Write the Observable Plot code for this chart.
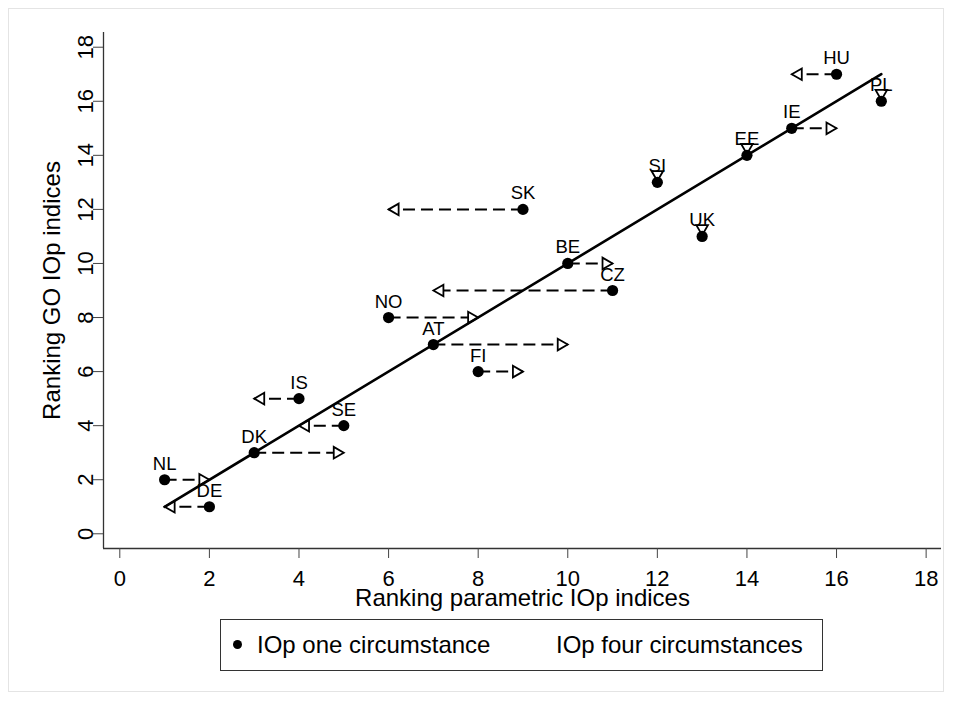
<!DOCTYPE html>
<html>
<head>
<meta charset="utf-8">
<script src="https://cdn.jsdelivr.net/npm/d3@7"></script>
<script src="https://cdn.jsdelivr.net/npm/@observablehq/plot@0.6"></script>
<style>
  body { margin: 0; background: #fff; font-family: "Liberation Sans", Arial, sans-serif; }
  #wrap { position: relative; width: 954px; height: 702px; overflow: hidden; background: #fff; }
  #outer { position: absolute; left: 8px; top: 8px; width: 936px; height: 684px; border: 1px solid #e4e4e4; box-sizing: border-box; }
  #chart { position: absolute; left: 0; top: 0; }
  #legend { position: absolute; left: 220px; top: 619px; width: 603px; height: 52px; border: 1.5px solid #333; box-sizing: border-box; font-size: 24px; color: #000; }
  #legend .dot { position: absolute; left: 12px; top: 50%; width: 9px; height: 9px; margin-top: -5px; border-radius: 50%; background: #000; }
  #legend .t { position: absolute; top: 50%; transform: translateY(-50%); white-space: nowrap; line-height: 1; }
</style>
</head>
<body>
<div id="wrap">
  <div id="outer"></div>
  <div id="chart"></div>
  <div id="legend"></div>
</div>
<script>
// ---- data ----
const countries  = ["NL","DE","DK","SE","IS","FI","AT","NO","CZ","BE","UK","SK","SI","EE","IE","PL","HU"];
const rankParam1 = [1, 2, 3, 5, 4, 8, 7, 6, 11, 10, 13, 9, 12, 14, 15, 17, 16];   // one circumstance
const rankParam4 = [2, 1, 5, 4, 3, 9, 10, 8, 7, 11, 13, 6, 12, 14, 16, 17, 15];   // four circumstances
const rankGO     = [2, 1, 3, 4, 5, 6, 7, 8, 9, 10, 11, 12, 13, 14, 15, 16, 17];
const fitX = [1, 17];
const fitY = [1, 17];
const xTicks = [0, 2, 4, 6, 8, 10, 12, 14, 16, 18];
const yTicks = [0, 2, 4, 6, 8, 10, 12, 14, 16, 18];
const legendLabels = ["IOp one circumstance", "IOp four circumstances"];
const xLabel = "Ranking parametric IOp indices";
const yLabel = "Ranking GO IOp indices";

const data = countries.map((name, i) => ({name, p1: rankParam1[i], p4: rankParam4[i], go: rankGO[i]}));
const moved = data.filter(d => d.p4 !== d.p1);
const right = data.filter(d => d.p4 > d.p1);
const left = data.filter(d => d.p4 < d.p1);
const same = data.filter(d => d.p4 === d.p1);
const fit = fitX.map((x, i) => ({x, y: fitY[i]}));

const xDomain = [-0.364, 18.343];
const yDomain = [-0.544, 18.544];
const font = "'Liberation Sans', Arial, sans-serif";

const chart = Plot.plot({
  width: 954,
  height: 610,
  marginLeft: 103,
  marginRight: 13,
  marginTop: 32,
  marginBottom: 62,
  x: {domain: xDomain},
  y: {domain: yDomain},
  style: {fontFamily: font, background: "transparent", color: "#000", overflow: "visible"},
  marks: [
    Plot.ruleX([xDomain[0]], {stroke: "#333", strokeWidth: 1.3}),
    Plot.ruleY([yDomain[0]], {stroke: "#333", strokeWidth: 1.3}),
    Plot.axisX(xTicks, {tickSize: 10, tickPadding: 12, fontSize: 22, label: null, stroke: "#444", fill: "#000"}),
    Plot.axisY(yTicks, {tickSize: 10, tickFormat: () => "", label: null, stroke: "#444"}),
    Plot.text(yTicks, {y: d => d, text: d => String(d), frameAnchor: "left", dx: -11, rotate: -90, textAnchor: "middle", lineAnchor: "bottom", fontSize: 22, fill: "#000"}),
    Plot.text([xLabel], {text: d => d, frameAnchor: "bottom", dy: 57, lineAnchor: "bottom", textAnchor: "middle", fontSize: 24, fill: "#000"}),
    Plot.text([yLabel], {text: d => d, frameAnchor: "left", dx: -44, rotate: -90, lineAnchor: "bottom", textAnchor: "middle", fontSize: 24, fill: "#000"}),
    Plot.link(moved, {x1: "p1", y1: "go", x2: "p4", y2: "go", stroke: "#000", strokeWidth: 2, strokeDasharray: "12,6"}),
    Plot.dot(right, {x: "p4", y: "go", symbol: "triangle", r: 4.3, rotate: 90, dx: -6.7, fill: "white", stroke: "#000", strokeWidth: 1.8}),
    Plot.dot(left, {x: "p4", y: "go", symbol: "triangle", r: 4.3, rotate: -90, dx: 6.7, fill: "white", stroke: "#000", strokeWidth: 1.8}),
    Plot.dot(same, {x: "p4", y: "go", symbol: "triangle", r: 4.3, rotate: 180, dy: -8, fill: "white", stroke: "#000", strokeWidth: 1.8}),
    Plot.line(fit, {x: "x", y: "y", stroke: "#000", strokeWidth: 2.6}),
    Plot.dot(data, {x: "p1", y: "go", r: 5.6, fill: "#000", stroke: "none"}),
    Plot.text(data, {x: "p1", y: "go", text: "name", dy: -10, lineAnchor: "bottom", textAnchor: "middle", fontSize: 18.5, fill: "#000"})
  ]
});
document.getElementById("chart").appendChild(chart);

const lg = document.getElementById("legend");
lg.innerHTML = `<span class="dot"></span><span class="t" style="left:36px">${legendLabels[0]}</span><span class="t" style="left:335px">${legendLabels[1]}</span>`;
</script>
</body>
</html>
